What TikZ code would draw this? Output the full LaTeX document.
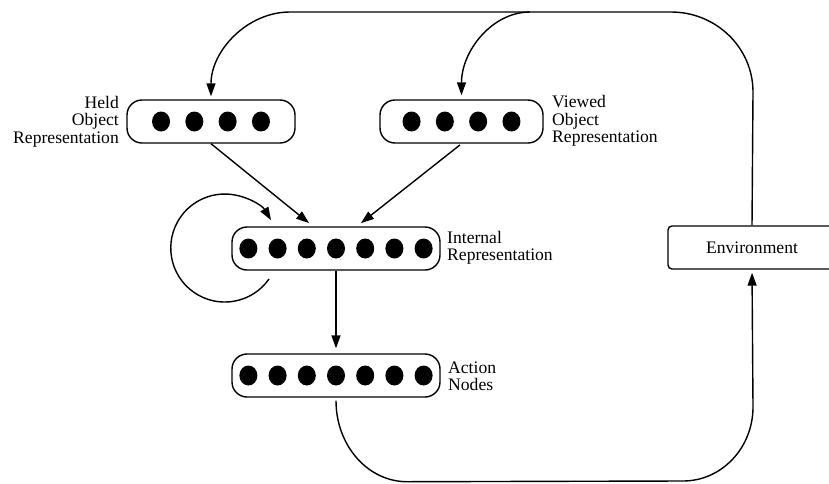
\documentclass[tikz,border=0pt]{standalone}
\usepackage{fontspec}
\setmainfont{Liberation Serif}
\usetikzlibrary{arrows.meta,calc}

\tikzset{
  layer/.style={draw, line width=1.4pt, rounded corners=15pt, minimum height=43pt, inner sep=0pt},
  envbox/.style={draw, line width=1.4pt, rounded corners=4pt, minimum height=43pt, minimum width=168pt, inner sep=0pt},
  lbl/.style={inner sep=0pt, font=\fontsize{17.6}{17.5}\selectfont},
  conn/.style={line width=1.4pt},
  arr/.style={conn, -{Triangle[length=13pt,width=9pt]}},
}

% a row of filled units centred in a layer box
\newcommand{\unitdots}[3]{% box name, spacing, count
  \foreach \k in {1,...,#3}{
    \fill ($(#1.center)+({(\k-(#3+1)/2)*#2},0)$) ellipse [x radius=9pt, y radius=10pt];
  }
}

\begin{document}
\begin{tikzpicture}[x=1pt,y=1pt]
  \clip (0,0) rectangle (829,-483);

  % layers of units
  \node[layer, minimum width=168pt] (held) at (211,-121.5) {};
  \node[layer, minimum width=163pt] (viewed) at (461.5,-121.5) {};
  \node[layer, minimum width=208pt] (internal) at (336,-248.5) {};
  \node[layer, minimum width=208pt] (action) at (336,-375.5) {};
  \node[envbox] (env) at (752,-247.5) {\fontsize{17.6}{17.5}\selectfont Environment};

  \unitdots{held}{33.3}{4}
  \unitdots{viewed}{33.3}{4}
  \unitdots{internal}{29.2}{7}
  \unitdots{action}{29.2}{7}

  % labels
  \node[lbl, align=right, anchor=east] (heldlbl) at (119,-121.5) {Held\\Object\\Representation};
  \node[lbl, align=left, anchor=west] (viewedlbl) at (552,-121) {Viewed\\Object\\Representation};
  \node[lbl, align=left, anchor=west] (internallbl) at (447,-248) {Internal\\Representation};
  \node[lbl, align=left, anchor=west] (actionlbl) at (448,-376) {Action\\Nodes};

  % feed-forward connections
  \draw[arr, shorten >=5pt] (held.south) -- ($(internal.north)+(-23,0)$);
  \draw[arr, shorten >=5pt, shorten <=2pt] (viewed.south) -- ($(internal.north)+(21,0)$);
  \draw[arr, shorten >=5pt] (internal.south) -- (action.north);

  % recurrent loop on the internal representation
  \coordinate (loopstart) at (269,-279);
  \draw[arr] (loopstart) arc[start angle=-35, end angle=-329, radius=54];

  % action nodes act on the environment
  \draw[arr, shorten <=3pt, shorten >=3pt] (action.south) -- ++(0,-3)
    arc[start angle=180, end angle=270, x radius=71, y radius=81]
    -- (683,-481)
    arc[start angle=270, end angle=360, x radius=70, y radius=74]
    -- (env.south);

  % environment feeds back to the held object representation
  \coordinate (vbranch) at (530,-12);
  \draw[arr, shorten >=3pt] (env.north) -- (753,-92)
    arc[start angle=0, end angle=90, x radius=82, y radius=80]
    -- (290,-12) .. controls (247,-12) and (211,-51) .. (held.north);

  % and to the viewed object representation
  \draw[arr, shorten >=4pt] (vbranch) .. controls (492,-12) and (461.5,-51) .. (viewed.north);
\end{tikzpicture}
\end{document}
